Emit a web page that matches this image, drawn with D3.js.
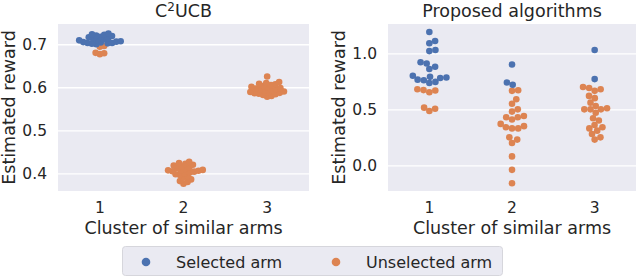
<!DOCTYPE html>
<html>
<meta charset=utf-8>
<head>
  <style>
    body { margin: 0; background: #fff; }
    svg text { font-family: "DejaVu Sans", sans-serif; fill: #262626; }
  </style>
</head>
<body>
<svg id="chart" width="640" height="278"></svg>
<script src="https://d3js.org/d3.v7.min.js"></script>
<script>

// categories on the x axis
var clusters = ['1', '2', '3']

// C2UCB panel, per cluster
var c2ucbSelected = [
  [0.725, 0.723, 0.722, 0.720, 0.719, 0.717, 0.716, 0.714, 0.713, 0.711,
   0.710, 0.709, 0.707, 0.706, 0.705, 0.704, 0.703, 0.703, 0.702, 0.701, 0.700],
  [],
  []
]
var c2ucbUnselected = [
  [0.696, 0.694, 0.680, 0.679, 0.677],
  [0.427, 0.424, 0.422, 0.420, 0.418, 0.416, 0.414, 0.412, 0.410, 0.408,
   0.407, 0.406, 0.406, 0.405, 0.404, 0.402, 0.400, 0.398, 0.396,
   0.393, 0.390, 0.386, 0.382, 0.380, 0.376],
  [0.625, 0.612, 0.610, 0.608, 0.607, 0.605, 0.603, 0.601, 0.600, 0.598,
   0.597, 0.596, 0.595, 0.593, 0.592, 0.590, 0.589, 0.588, 0.587,
   0.586, 0.585, 0.584, 0.582, 0.580, 0.578]
]

// Proposed algorithms panel, per cluster
var proposedSelected = [
  [1.19, 1.11, 1.09, 1.03, 1.02, 0.92, 0.91, 0.88, 0.86, 0.80,
   0.79, 0.785, 0.78, 0.765, 0.76, 0.745, 0.735],
  [0.90, 0.74, 0.72],
  [1.03, 0.77]
]
var proposedUnselected = [
  [0.68, 0.672, 0.668, 0.653, 0.515, 0.505, 0.485],
  [0.67, 0.665, 0.59, 0.55, 0.50, 0.48, 0.44, 0.43, 0.43, 0.41, 0.37,
   0.35, 0.34, 0.33, 0.33, 0.25, 0.23, 0.20, 0.08, -0.04, -0.16],
  [0.70, 0.69, 0.68, 0.665, 0.62, 0.60, 0.56, 0.53, 0.51, 0.50, 0.50,
   0.50, 0.47, 0.42, 0.40, 0.36, 0.34, 0.33, 0.31, 0.28, 0.25, 0.23]
]

var c2ucbTicks = [0.4, 0.5, 0.6, 0.7]
var proposedTicks = [0.0, 0.5, 1.0]

var legendLabels = ['Selected arm', 'Unselected arm']
var colors = ['#4c72b0', '#dd8452']

var svg = d3.select('#chart')
var R = 3.3

// simple beeswarm: each point goes to the free spot closest to the center
// r is the spacing radius, can be smaller than the drawn dot so they overlap
function swarm(points, y, r) {
  var sorted = points.slice().sort(function (a, b) { return a.v - b.v })
  var placed = []
  sorted.forEach(function (p) {
    p.y = y(p.v)
    var cands = [0]
    placed.forEach(function (q) {
      var dy = Math.abs(q.y - p.y)
      if (dy < 2 * r) {
        var dx = Math.sqrt(4 * r * r - dy * dy)
        cands.push(q.dx + dx, q.dx - dx)
      }
    })
    cands.sort(function (a, b) { return Math.abs(a) - Math.abs(b) })
    for (var i = 0; i < cands.length; i++) {
      var c = cands[i]
      var ok = placed.every(function (q) {
        var ddx = q.dx - c, ddy = q.y - p.y
        return ddx * ddx + ddy * ddy >= 4 * r * r - 0.01
      })
      if (ok) { p.dx = c; break }
    }
    placed.push(p)
  })
  return placed
}

function panel(opts) {
  var g = svg.append('g')
  var x = d3.scaleBand().domain(clusters).range([opts.left, opts.right])
  var y = d3.scaleLinear().domain(opts.domain).range([191, 24])

  g.append('rect')
    .attr('x', opts.left).attr('y', 24)
    .attr('width', opts.right - opts.left).attr('height', 167)
    .attr('fill', '#eaeaf2')

  var yAxis = d3.axisLeft(y).tickValues(opts.ticks).tickFormat(d3.format('.1f'))
    .tickSize(-(opts.right - opts.left)).tickPadding(11)
  var ya = g.append('g').attr('transform', 'translate(' + opts.left + ',0)').call(yAxis)
  ya.select('.domain').remove()
  ya.selectAll('line').attr('stroke', '#fff').attr('stroke-width', 1.3)
  ya.selectAll('text').attr('font-size', 15.5).attr('fill', '#262626')
    .style('font-family', '"DejaVu Sans", sans-serif')

  var xAxis = d3.axisBottom(x).tickSize(0).tickPadding(11)
  var xa = g.append('g').attr('transform', 'translate(0,191)').call(xAxis)
  xa.select('.domain').remove()
  xa.selectAll('text').attr('font-size', 15.5).attr('fill', '#262626')
    .style('font-family', '"DejaVu Sans", sans-serif')

  clusters.forEach(function (c, i) {
    var pts = opts.selected[i].map(function (v) { return { v: v, k: 0 } })
      .concat(opts.unselected[i].map(function (v) { return { v: v, k: 1 } }))
    var placed = swarm(pts, y, opts.spacing)
    var cx = x(c) + x.bandwidth() / 2
    g.selectAll(null).data(placed).enter().append('circle')
      .attr('cx', function (d) { return cx + d.dx })
      .attr('cy', function (d) { return d.y })
      .attr('r', R)
      .attr('fill', function (d) { return colors[d.k] })
  })

  var mid = (opts.left + opts.right) / 2
  var t = g.append('text').attr('x', mid).attr('y', 17)
    .attr('text-anchor', 'middle').attr('font-size', 17.5)
  opts.title(t)

  g.append('text').attr('x', mid).attr('y', 234)
    .attr('text-anchor', 'middle').attr('font-size', 17.5)
    .text('Cluster of similar arms')

  g.append('text')
    .attr('transform', 'translate(' + opts.ylabelX + ',' + 107.5 + ') rotate(-90)')
    .attr('text-anchor', 'middle').attr('font-size', 17.5)
    .text('Estimated reward')
}

panel({
  left: 58, right: 309, domain: [0.359, 0.747], ticks: c2ucbTicks,
  selected: c2ucbSelected, unselected: c2ucbUnselected, ylabelX: 15,
  spacing: 2.2,
  title: function (t) {
    t.append('tspan').text('C')
    t.append('tspan').attr('font-size', 12).attr('dy', -6).text('2')
    t.append('tspan').attr('dy', 6).text('UCB')
  }
})

panel({
  left: 388, right: 636, domain: [-0.229, 1.262], ticks: proposedTicks,
  selected: proposedSelected, unselected: proposedUnselected, ylabelX: 345,
  spacing: 3.1,
  title: function (t) { t.text('Proposed algorithms') }
})

// legend
var lg = svg.append('g')
lg.append('rect')
  .attr('x', 122.5).attr('y', 246.5).attr('width', 380).attr('height', 29)
  .attr('rx', 3).attr('fill', '#eaeaf2').attr('stroke', '#d6d6dc')
var legendX = [146, 336]
legendLabels.forEach(function (l, i) {
  lg.append('circle').attr('cx', legendX[i]).attr('cy', 262).attr('r', 4.3)
    .attr('fill', colors[i])
  lg.append('text').attr('x', legendX[i] + 30).attr('y', 267.5)
    .attr('font-size', 16).text(l)
})

</script>
</body>
</html>
